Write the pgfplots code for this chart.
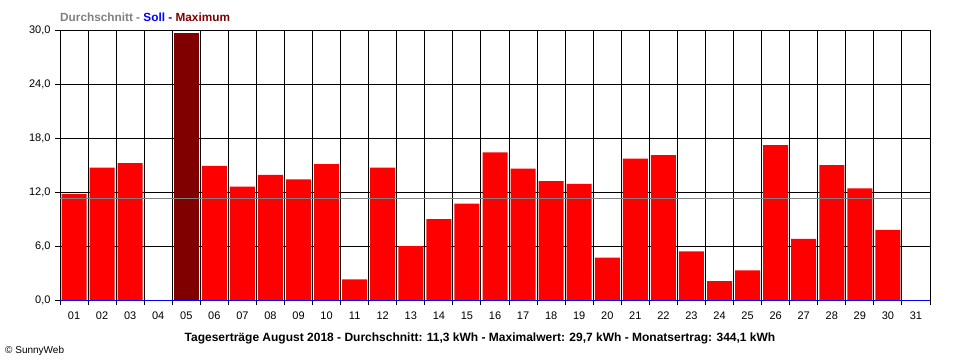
\documentclass[border=0pt]{standalone}
\usepackage{pgfplots}
\pgfplotsset{compat=1.18}
\usepackage{fontspec}
\setmainfont{Liberation Sans}
\definecolor{barred}{RGB}{255,0,0}
\definecolor{maxred}{RGB}{128,0,0}
\definecolor{avggray}{RGB}{128,128,128}
\definecolor{sollblue}{RGB}{0,0,255}
\begin{document}
\begin{tikzpicture}[x=1pt,y=1pt]
\useasboundingbox (0,0) rectangle (960,360);
\begin{axis}[
  at={(60pt,60pt)}, anchor=south west,
  scale only axis, width=870pt, height=270pt,
  xmin=0.5, xmax=31.5, ymin=0, ymax=30,
  clip=false,
  axis line style={draw=none},
  xtick={0.5,1.5,...,31.5},
  xticklabels={},
  xmajorgrids,
  extra x ticks={1,2,...,31},
  extra x tick labels={01,02,03,04,05,06,07,08,09,10,11,12,13,14,15,16,17,18,19,20,21,22,23,24,25,26,27,28,29,30,31},
  extra x tick style={grid=none, major tick length=0pt, tick style={draw=none}},
  ytick={0,6,...,30},
  yticklabels={{0,0},{6,0},{12,0},{18,0},{24,0},{30,0}},
  ymajorgrids,
  grid style={black, line width=1pt},
  tick style={black, line width=1pt},
  tick align=outside,
  tick pos=left,
  major tick length=5pt,
  ticklabel style={font=\fontsize{11}{13}\selectfont},
  xticklabel style={yshift=-8pt},
  yticklabel style={xshift=-1pt},
]
\addplot[ybar, fill=barred, draw=none, bar width=25pt] coordinates {
(1,11.8) (2,14.7) (3,15.2) (6,14.9) (7,12.6) (8,13.9) (9,13.4) (10,15.1)
(11,2.3) (12,14.7) (13,6.0) (14,9.0) (15,10.7) (16,16.4) (17,14.6) (18,13.2)
(19,12.9) (20,4.7) (21,15.7) (22,16.1) (23,5.4) (24,2.1) (25,3.3) (26,17.2)
(27,6.8) (28,15.0) (29,12.4) (30,7.8)
};
\addplot[ybar, fill=maxred, draw=none, bar width=25pt] coordinates {(5,29.7)};
\addplot[avggray, line width=1pt] coordinates {(0.5,11.3) (31.5,11.3)};
\addplot[sollblue, line width=1pt] coordinates {(0.5,0) (31.5,0)};
\end{axis}
\node[anchor=base west, inner sep=0pt, font=\bfseries\fontsize{11.8}{14}\selectfont] at (60,339)
  {{\color{avggray}Durchschnitt - }{\color{sollblue}Soll - }{\color{maxred}Maximum}};
\node[anchor=base, inner sep=0pt, font=\bfseries\fontsize{12}{14}\selectfont] at (480,19)
  {Tageserträge August 2018 - Durchschnitt: 11,3 kWh - Maximalwert: 29,7 kWh - Monatsertrag: 344,1 kWh};
\node[anchor=base west, inner sep=0pt, font=\fontsize{10}{12}\selectfont] at (5,7) {© SunnyWeb};
\end{tikzpicture}
\end{document}
